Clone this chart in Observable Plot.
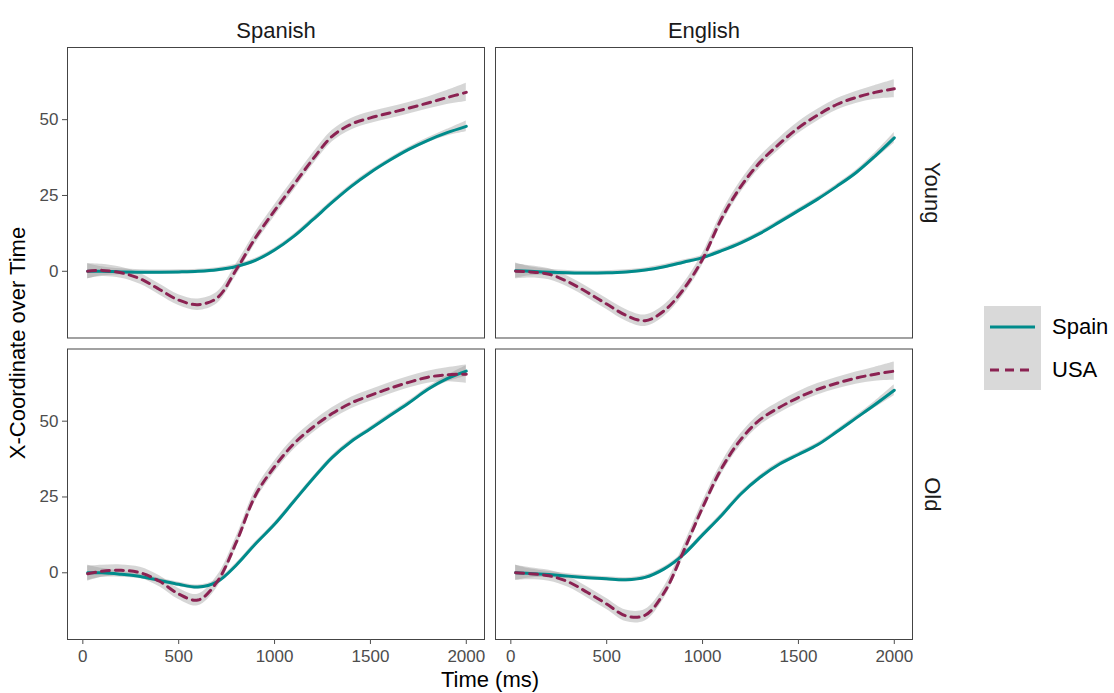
<!DOCTYPE html>
<html><head><meta charset="utf-8">
<script src="https://cdn.jsdelivr.net/npm/d3@7"></script>
<script src="https://cdn.jsdelivr.net/npm/@observablehq/plot@0.6"></script>
<style>
body{margin:0;background:#fff;font-family:"Liberation Sans",Arial,sans-serif;}
#wrap{position:relative;width:1114px;height:693px;overflow:hidden;}
#chart{position:absolute;left:0;top:0;}
.title{position:absolute;font-size:22px;color:#000;white-space:nowrap;transform:translate(-50%,-50%);}
#ytitle{transform:translate(-50%,-50%) rotate(-90deg);}
#legend{position:absolute;left:984px;top:306px;}
.lab{position:absolute;font-size:22px;color:#000;white-space:nowrap;}
</style></head><body>
<div id="wrap">
  <div id="chart"></div>
  <div class="title" id="xtitle" style="left:490px;top:680px;">Time (ms)</div>
  <div class="title" id="ytitle" style="left:18px;top:343px;">X-Coordinate over Time</div>
  <div id="legend"></div>
</div>
<script>
const languages = ["Spanish", "English"];
const ages = ["Young", "Old"];
const countries = ["Spain", "USA"];
const countryColors = ["#008b8b", "#8b2252"];
const xTicks = [0, 500, 1000, 1500, 2000];
const yTicks = [0, 25, 50];

const times = [25,100,200,300,400,500,600,700,800,900,1000,1100,1200,1300,1400,1500,1600,1700,1800,1900,2000];

// Spanish / Young
const spainSpanishYoung = [0,0,-0.2,-0.3,-0.3,-0.2,0,0.5,1.6,3.6,7,11.5,17,22.7,28,32.6,36.6,40.2,43.2,45.7,47.8];
const usaSpanishYoung   = [0,0.3,-0.5,-2.5,-6,-9.5,-11,-8.8,0.5,11,20,28.5,37,44.5,48.5,50.6,52.2,53.8,55.5,57.3,59];
// English / Young
const spainEnglishYoung = [0.2,0,-0.3,-0.5,-0.6,-0.5,-0.2,0.4,1.5,3,4.5,6.8,9.4,12.5,16.2,20,23.8,28,32.5,38,44];
const usaEnglishYoung   = [0,-0.2,-1,-3.5,-7,-10.8,-14.5,-16.3,-13,-6,4,17.5,28,36,42,47.3,51.5,55,57.3,59,60.2];
// Spanish / Old
const spainSpanishOld   = [0,0,-0.5,-1.2,-2.5,-3.8,-4.7,-3,2.5,9.5,16,23.5,31,38,43.3,47.5,51.8,56,60.5,64,66.5];
const usaSpanishOld     = [-0.3,0.5,0.8,0,-2.8,-7,-9,-3,10,25.5,35,42.5,48,52.5,56,58.5,60.8,62.8,64.5,65.3,65.5];
// English / Old
const spainEnglishOld   = [0,-0.2,-0.6,-1.1,-1.6,-2,-2.3,-1.5,1.3,6,12.5,19,26,31.5,35.8,39,42.2,46.5,51,55.5,60.2];
const usaEnglishOld     = [0,-0.3,-1,-3,-6.5,-10.3,-14.2,-14,-6.5,7,21.5,34.5,44,50.5,54.5,57.8,60.5,62.5,64.2,65.5,66.5];

// confidence band half-widths
const spainBand = [2.5,1.5,1,0.8,0.7,0.7,0.7,0.7,0.7,0.7,0.7,0.7,0.7,0.7,0.7,0.7,0.7,0.7,0.8,1.1,1.8];
const usaBand   = [2.5,2,1.8,1.8,1.8,1.8,1.9,1.9,1.9,1.9,1.9,1.9,1.9,1.9,1.9,1.9,1.9,1.9,2,2.3,3];

const series = [
  ["Spanish","Young","Spain",spainSpanishYoung],
  ["Spanish","Young","USA",usaSpanishYoung],
  ["English","Young","Spain",spainEnglishYoung],
  ["English","Young","USA",usaEnglishYoung],
  ["Spanish","Old","Spain",spainSpanishOld],
  ["Spanish","Old","USA",usaSpanishOld],
  ["English","Old","Spain",spainEnglishOld],
  ["English","Old","USA",usaEnglishOld]
];
const rows = [];
for (const [lang, age, country, vals] of series) {
  const band = country === "Spain" ? spainBand : usaBand;
  vals.forEach((v, i) => rows.push({lang, age, country, key: lang + age + country, t: times[i], v, lo: v - band[i], hi: v + band[i]}));
}

const chart = Plot.plot({
  width: 960, height: 693,
  marginLeft: 67, marginRight: 48, marginTop: 47, marginBottom: 54,
  style: {fontFamily: "Liberation Sans, Arial, sans-serif", background: "white", color: "#000"},
  x: {domain: [-80, 2095]},
  y: {domain: [-22, 73.8]},
  fx: {domain: languages, paddingInner: 0.0257, paddingOuter: 0, round: false},
  fy: {domain: ages, paddingInner: 0.0365, paddingOuter: 0, round: false},
  color: {domain: countries, range: countryColors},
  marks: [
    Plot.areaY(rows, {x: "t", y1: "lo", y2: "hi", z: "key", fx: "lang", fy: "age", fill: "#999999", fillOpacity: 0.4, curve: "catmull-rom"}),
    Plot.line(rows, {filter: d => d.country === "Spain", x: "t", y: "v", z: "key", fx: "lang", fy: "age", stroke: "country", strokeWidth: 3, curve: "catmull-rom"}),
    Plot.line(rows, {filter: d => d.country === "USA", x: "t", y: "v", z: "key", fx: "lang", fy: "age", stroke: "country", strokeWidth: 3, strokeDasharray: "8,6", curve: "catmull-rom"}),
    Plot.frame({stroke: "#444", strokeWidth: 1}),
    Plot.axisX({ticks: xTicks, tickFormat: d => String(d), tickSize: 5, tickPadding: 5, fontSize: 17, color: "#4d4d4d", label: null}),
    Plot.axisY({ticks: yTicks, tickFormat: d => String(d), tickSize: 5, tickPadding: 4, fontSize: 17, color: "#4d4d4d", label: null}),
    Plot.axisFx({anchor: "top", tickSize: 0, tickPadding: 10, fontSize: 22, color: "#1a1a1a", label: null}),
    Plot.axisFy({anchor: "right", tickSize: 0, tickPadding: 28, tickRotate: 90, fontSize: 22, color: "#1a1a1a", label: null})
  ]
});
document.getElementById("chart").appendChild(chart);

// legend
const NS = "http://www.w3.org/2000/svg";
const leg = document.getElementById("legend");
const svg = document.createElementNS(NS, "svg");
svg.setAttribute("width", 57); svg.setAttribute("height", 84);
svg.style.position = "absolute"; svg.style.left = "0px"; svg.style.top = "0px";
const bg = document.createElementNS(NS, "rect");
bg.setAttribute("width", 57); bg.setAttribute("height", 84); bg.setAttribute("fill", "#d9d9d9");
svg.appendChild(bg);
countries.forEach((c, i) => {
  const ln = document.createElementNS(NS, "line");
  const y = i === 0 ? 21 : 64;
  ln.setAttribute("x1", 6); ln.setAttribute("x2", 51); ln.setAttribute("y1", y); ln.setAttribute("y2", y);
  ln.setAttribute("stroke", countryColors[i]); ln.setAttribute("stroke-width", 3);
  if (c === "USA") ln.setAttribute("stroke-dasharray", "9,6");
  svg.appendChild(ln);
  const lab = document.createElement("div");
  lab.className = "lab"; lab.textContent = c;
  lab.style.left = "68px"; lab.style.top = (y - 13) + "px";
  leg.appendChild(lab);
});
leg.appendChild(svg);
</script>
</body></html>
